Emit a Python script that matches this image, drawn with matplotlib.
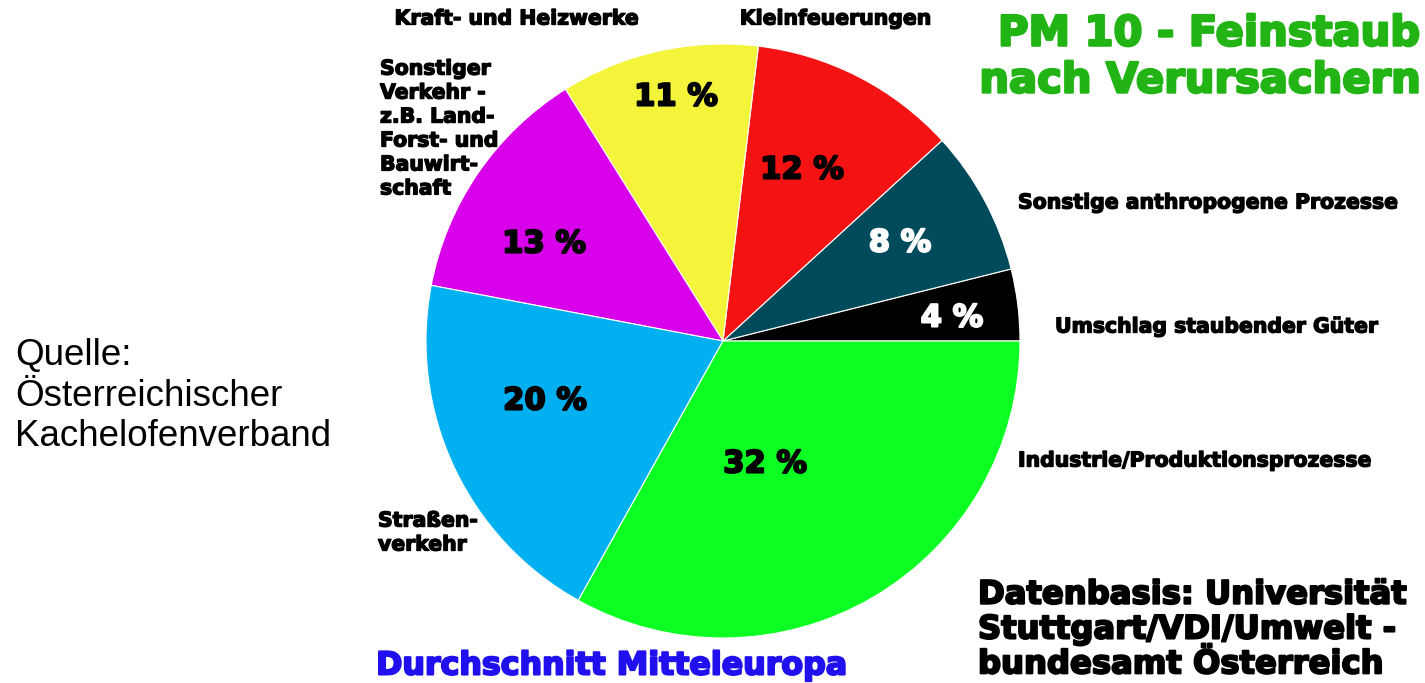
import numpy as np
import matplotlib.pyplot as plt
import matplotlib.patheffects as pe

anteile = [3.9, 7.9, 11.3, 10.8, 13.1, 19.9, 33.1]
prozent_text = ['4 %', '8 %', '12 %', '11 %', '13 %', '20 %', '32 %']
farben = ['#000000', '#004b5b', '#f51212', '#f4f43a', '#d800ea', '#00b0f0', '#0cff22']
text_farben = ['white', 'white', 'black', 'black', 'black', 'black', 'black']
verursacher = ['Umschlag staubender Güter', 'Sonstige anthropogene Prozesse',
               'Kleinfeuerungen', 'Kraft- und Heizwerke',
               'Sonstiger\nVerkehr -\nz.B. Land-\nForst- und\nBauwirt-\nschaft',
               'Straßen-\nverkehr', 'Industrie/Produktionsprozesse']

W, H = 1425, 683
fig = plt.figure(figsize=(W / 100, H / 100), dpi=100)
ax = fig.add_axes([0, 0, 1, 1])

cx, cy, r = 723, H - 341, 297
ax.pie(anteile, colors=farben, startangle=0, counterclock=True,
       center=(cx, cy), radius=r,
       wedgeprops=dict(edgecolor='white', linewidth=0.8))
ax.set_xlim(0, W)
ax.set_ylim(0, H)
ax.set_aspect('equal')
ax.axis('off')


def fett(farbe='black', dicke=1.0):
    # DejaVu Sans Bold + Kontur, damit es nach Arial Black aussieht
    return dict(family='DejaVu Sans', fontweight='bold', color=farbe,
                path_effects=[pe.withStroke(linewidth=dicke, foreground=farbe)])


# Prozentwerte in den Stücken
pct_pos = [(952, 318), (900, 243), (802, 170), (676, 97), (544, 244), (545, 401), (765, 464)]
for (px, py), t, c in zip(pct_pos, prozent_text, text_farben):
    ax.text(px, H - py, t, fontsize=22, ha='center', va='center', **fett(c, 1.5))

# Beschriftungen der Verursacher
lab_pos = [(1055, 327, 'left'), (1018, 203, 'left'), (836, 19, 'center'), (517, 19, 'center'),
           (380, 129, 'left'), (378, 533, 'left'), (1018, 461, 'left')]
for (lx, ly, ha), t in zip(lab_pos, verursacher):
    ax.text(lx, H - ly, t, fontsize=14.7, ha=ha, va='center', linespacing=1.33, **fett('black', 1.0))

ax.text(1420, H - 57, 'PM 10 - Feinstaub\nnach Verursachern',
        fontsize=30, ha='right', va='center', linespacing=1.15, **fett('#22b414', 1.8))
ax.text(15, H - 396, 'Quelle:\nÖsterreichischer\nKachelofenverband',
        family='Liberation Sans', fontsize=26.5, ha='left', va='center', linespacing=1.2)
ax.text(611, H - 666, 'Durchschnitt Mitteleuropa',
        fontsize=22.8, ha='center', va='center', **fett('#2010ee', 1.5))
ax.text(978, H - 630, 'Datenbasis: Universität\nStuttgart/VDI/Umwelt -\nbundesamt Österreich',
        fontsize=23.2, ha='left', va='center', linespacing=1.16, **fett('black', 1.5))

fig.savefig('out.png', dpi=100)
